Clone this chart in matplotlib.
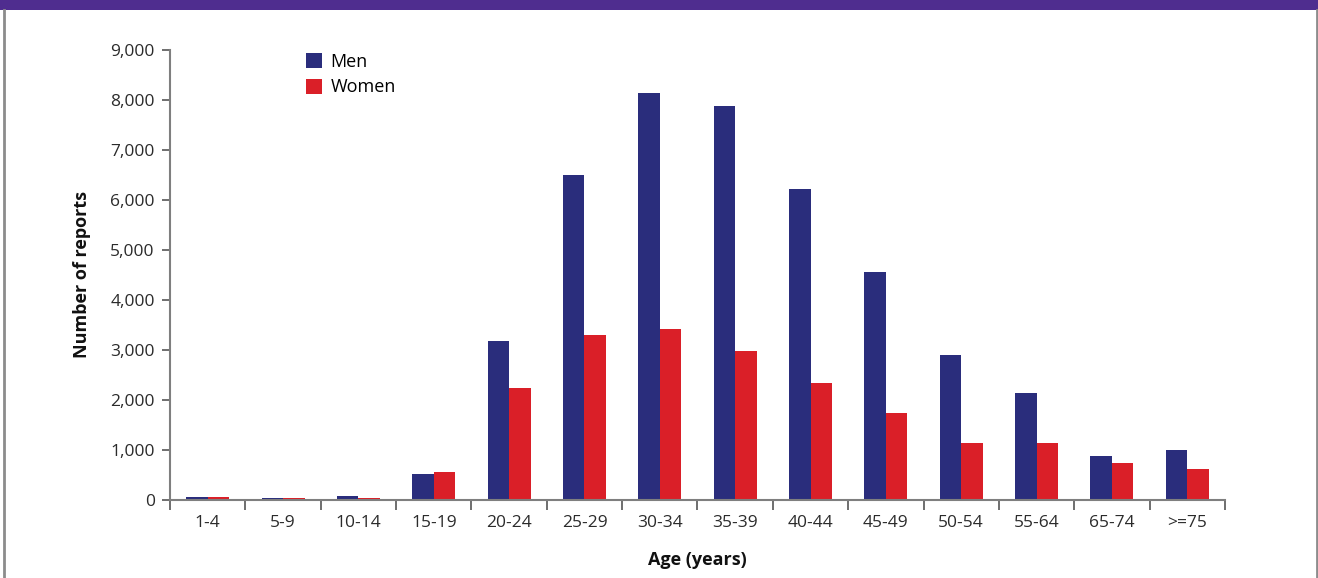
import matplotlib
matplotlib.use("Agg")
import matplotlib.pyplot as plt
from matplotlib.patches import Rectangle
from matplotlib.lines import Line2D
import numpy as np

age_groups = ["1-4", "5-9", "10-14", "15-19", "20-24", "25-29", "30-34",
              "35-39", "40-44", "45-49", "50-54", "55-64", "65-74", ">=75"]
men = [60, 40, 80, 520, 3180, 6500, 8140, 7880, 6220, 4560, 2900, 2140, 880, 1000]
women = [60, 40, 40, 560, 2240, 3300, 3420, 2980, 2340, 1740, 1140, 1140, 740, 620]
y_ticks = [0, 1000, 2000, 3000, 4000, 5000, 6000, 7000, 8000, 9000]

MEN_COLOR = "#2A2D7C"
WOMEN_COLOR = "#DA1F28"
SPINE_COLOR = "#7F7F7F"
TEXT_COLOR = "#2B2B2B"

plt.rcParams["font.family"] = ["Open Sans", "DejaVu Sans"]

W, H = 1318, 578
fig = plt.figure(figsize=(W / 100, H / 100), dpi=100)

# page frame: purple header band and grey side rules
fig.patches.append(Rectangle((0, 1 - 10 / H), 1, 10 / H, transform=fig.transFigure,
                             facecolor="#4F2D8F", edgecolor="none", zorder=0))
fig.lines.append(Line2D([3.5 / W, 3.5 / W], [0, 1 - 10 / H], transform=fig.transFigure,
                        color="#8C8C8C", lw=2))
fig.lines.append(Line2D([1316.5 / W, 1316.5 / W], [0, 1 - 10 / H], transform=fig.transFigure,
                        color="#8C8C8C", lw=2))

ax = fig.add_axes([170 / W, 1 - 500 / H, (1225 - 170) / W, (500 - 50) / H])

x = np.arange(len(age_groups))
bw = 0.285
ax.bar(x - bw / 2, men, width=bw, color=MEN_COLOR, label="Men", zorder=2)
ax.bar(x + bw / 2, women, width=bw, color=WOMEN_COLOR, label="Women", zorder=2)

ax.set_xlim(-0.5, len(age_groups) - 0.5)
ax.set_ylim(0, 9000)
ax.set_yticks(y_ticks)
ax.set_yticklabels([f"{v:,}" for v in y_ticks])

# category labels sit between boundary ticks
ax.set_xticks(np.arange(-0.5, len(age_groups), 1.0))
ax.set_xticklabels([])
ax.set_xticks(x, minor=True)
ax.set_xticklabels(age_groups, minor=True)
ax.tick_params(axis="x", which="minor", length=0, pad=11, labelsize=12.5, labelcolor=TEXT_COLOR)
ax.tick_params(axis="x", which="major", length=7, width=1.2, color="#555555", direction="out")
ax.tick_params(axis="y", length=6, width=1.2, color="#555555", direction="out",
               pad=5, labelsize=12.5, labelcolor=TEXT_COLOR)

for side in ("top", "right"):
    ax.spines[side].set_visible(False)
for side in ("left", "bottom"):
    ax.spines[side].set_color(SPINE_COLOR)
    ax.spines[side].set_linewidth(1.5)

ax.set_xlabel("Age (years)", fontsize=13, fontweight="bold", color="#111111", labelpad=14)
ax.set_ylabel("Number of reports", fontsize=13, fontweight="bold", color="#111111", labelpad=14)

ax.legend(loc="upper left", bbox_to_anchor=(0.122, 1.01), frameon=False,
          fontsize=13, handlelength=0.9, handleheight=0.9, handletextpad=0.45,
          labelspacing=0.42, borderaxespad=0)

fig.savefig("out.png", dpi=100, facecolor="white")
